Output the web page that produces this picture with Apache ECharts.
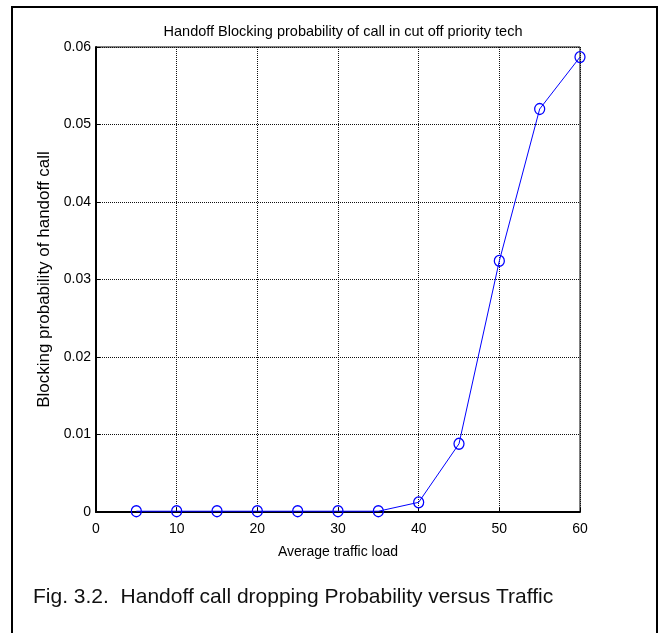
<!DOCTYPE html>
<html>
<head>
<meta charset="utf-8">
<script src="https://cdn.jsdelivr.net/npm/echarts@6/dist/echarts.min.js"></script>
<style>
html,body{margin:0;padding:0;background:#fff;}
#chart{width:664px;height:633px;}
</style>
</head>
<body>
<div id="chart"></div>
<script>
// Data
const trafficLoad = [5, 10, 15, 20, 25, 30, 35, 40, 45, 50, 55, 60];
const blockingProb = [0.0001, 0.0001, 0.0001, 0.0001, 0.0001, 0.0001, 0.0001, 0.00125, 0.0088, 0.0324, 0.0520, 0.0587];
const chartTitle = 'Handoff Blocking probability of call in cut off priority tech';
const xName = 'Average traffic load';
const yName = 'Blocking probability of handoff call';
const caption = 'Fig. 3.2.\u00a0 Handoff call dropping Probability versus Traffic';

const FONT = '"Liberation Sans", Arial, sans-serif';
const chart = echarts.init(document.getElementById('chart'), null, {renderer: 'canvas'});

chart.setOption({
  backgroundColor: '#ffffff',
  animation: false,
  title: {
    text: chartTitle,
    left: 338,
    top: 19,
    textAlign: 'center',
    textStyle: {fontFamily: FONT, fontSize: 14.5, fontWeight: 'normal', color: '#000'}
  },
  grid: {
    left: 96, right: 84, top: 47, bottom: 121,
    show: true, borderColor: '#000', borderWidth: 1, backgroundColor: 'transparent'
  },
  xAxis: {
    type: 'value',
    min: 0, max: 60, interval: 10,
    name: xName,
    nameLocation: 'middle',
    nameGap: 33,
    nameTextStyle: {fontFamily: FONT, fontSize: 14, color: '#000'},
    axisLine: {show: true, onZero: false, lineStyle: {color: '#000', width: 2}},
    axisTick: {show: true, inside: true, length: 4, lineStyle: {color: '#000'}},
    axisLabel: {fontFamily: FONT, fontSize: 14, color: '#000', margin: 10},
    splitLine: {show: true, lineStyle: {color: '#111', type: 'dotted', width: 1}}
  },
  yAxis: {
    type: 'value',
    min: 0, max: 0.06, interval: 0.01,
    name: yName,
    nameLocation: 'middle',
    nameGap: 40,
    nameRotate: 90,
    nameTextStyle: {fontFamily: FONT, fontSize: 17, color: '#000'},
    axisLine: {show: true, onZero: false, lineStyle: {color: '#000', width: 2}},
    axisTick: {show: true, inside: true, length: 4, lineStyle: {color: '#000'}},
    axisLabel: {
      fontFamily: FONT, fontSize: 14, color: '#000', margin: 5,
      formatter: function (v) { return v === 0 ? '0' : v.toFixed(2); }
    },
    splitLine: {show: true, lineStyle: {color: '#111', type: 'dotted', width: 1}}
  },
  series: [{
    type: 'line',
    data: trafficLoad.map((x, i) => [x, blockingProb[i]]),
    symbol: 'circle',
    symbolSize: [10, 11],
    lineStyle: {color: '#0000ff', width: 1},
    itemStyle: {color: 'rgba(0,0,0,0)', borderColor: '#0000ff', borderWidth: 1.3},
    z: 5
  }],
  graphic: [
    {
      type: 'rect',
      shape: {x: 12, y: 7, width: 645, height: 640},
      style: {fill: 'none', stroke: '#000', lineWidth: 2},
      silent: true
    },
    {
      type: 'text',
      x: 33, y: 597,
      style: {
        text: caption,
        font: '21px ' + FONT,
        fill: '#111',
        verticalAlign: 'middle'
      }
    }
  ]
});
</script>
</body>
</html>
